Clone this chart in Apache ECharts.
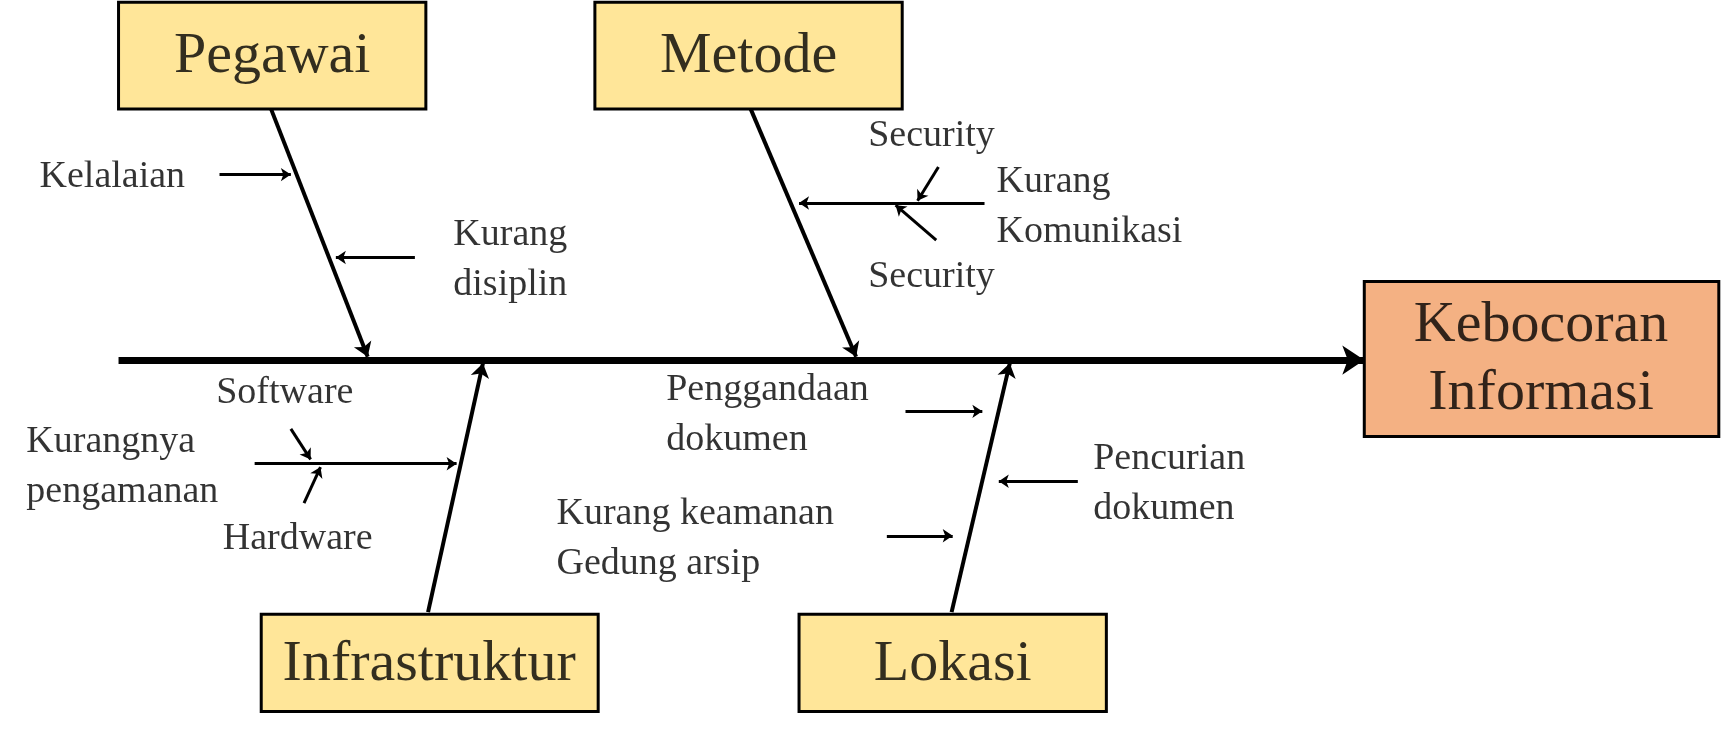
<!DOCTYPE html>
<html><head><meta charset="utf-8">
<script src="https://cdn.jsdelivr.net/npm/echarts@6/dist/echarts.min.js"></script>
<style>html,body{margin:0;padding:0;background:#fff}#c{width:1721px;height:742px}</style>
</head><body><div id="c"></div>
<script>
// boxes: [x1, y1, x2, y2, fill]
var boxes = [
  [108, 2, 388, 100, '#FFE699'],
  [542, 2, 822, 100, '#FFE699'],
  [238, 563, 545, 652, '#FFE699'],
  [728, 563, 1008, 652, '#FFE699'],
  [1243, 258, 1566, 400, '#F4B183']
]
var boxTitles = [
  [248, 52, 'Pegawai'], [682, 52, 'Metode'], [391, 609, 'Infrastruktur'],
  [868, 609, 'Lokasi'], [1404, 330, 'Kebocoran\nInformasi']
]
// main bones
var bones = [
  [[247, 100], [335, 327]],
  [[684, 100], [780, 327]],
  [[390, 561], [440, 333]],
  [[867, 561], [920, 333]]
]
var spine = [[[108, 330], [1243, 330]]]
// cause arrows
var arrows = [
  [[200, 160], [265, 160]],
  [[378, 236], [306, 236]],
  [[897, 186], [728, 186]],
  [[855, 153], [836, 184]],
  [[853, 220], [816, 188]],
  [[232, 425], [416, 425]],
  [[265, 393], [283, 421]],
  [[277, 461], [292, 428]],
  [[825, 377], [895, 377]],
  [[982, 441], [910, 441]],
  [[808, 491], [868, 491]]
]
// cause labels: [x, y, text]
var causes = [
  [36, 162, 'Kelalaian'],
  [413, 238, 'Kurang\ndisiplin'],
  [791, 125, 'Security'],
  [908, 190, 'Kurang\nKomunikasi'],
  [791, 254, 'Security'],
  [197, 360, 'Software'],
  [24, 428, 'Kurangnya\npengamanan'],
  [203, 494, 'Hardware'],
  [607, 380, 'Penggandaan\ndokumen'],
  [996, 444, 'Pencurian\ndokumen'],
  [507, 494, 'Kurang keamanan\nGedung arsip']
]

var font = 'Liberation Serif'
var myChart = echarts.init(document.getElementById('c'))

function lineSeries(data, width, arrowSize) {
  return {
    type: 'lines', coordinateSystem: 'cartesian2d', z: 3,
    symbol: ['none', 'arrow'], symbolSize: arrowSize,
    lineStyle: { color: '#000', width: width, opacity: 1 },
    data: data.map(function (d) { return { coords: d } })
  }
}

var option = {
  animation: false,
  grid: { left: 0, right: 0, top: 0, bottom: 0 },
  xAxis: { type: 'value', min: 0, max: 1568, show: false },
  yAxis: { type: 'value', min: 0, max: 680, inverse: true, show: false },
  series: [
    {
      type: 'custom', z: 2,
      renderItem: function (params, api) {
        var p1 = api.coord([api.value(0), api.value(1)])
        var p2 = api.coord([api.value(2), api.value(3)])
        return {
          type: 'rect',
          shape: { x: p1[0], y: p1[1], width: p2[0] - p1[0], height: p2[1] - p1[1] },
          style: { fill: boxes[params.dataIndex][4], stroke: '#000', lineWidth: 3 }
        }
      },
      data: boxes.map(function (b) { return b.slice(0, 4) })
    },
    {
      type: 'scatter', symbolSize: 0, z: 5,
      label: { show: true, position: 'inside', color: '#000', textBorderWidth: 0, fontFamily: font,
        fontSize: 58, lineHeight: 68,
        formatter: function (p) { return p.value[2] } },
      data: boxTitles
    },
    lineSeries(spine, 7, 22),
    lineSeries(bones, 4, 14),
    lineSeries(arrows, 3, 10),
    {
      type: 'scatter', symbolSize: 0, z: 5,
      label: { show: true, position: 'right', distance: 0, align: 'left', color: '#000', textBorderWidth: 0,
        fontFamily: font, fontSize: 38, lineHeight: 50,
        formatter: function (p) { return p.value[2] } },
      data: causes
    }
  ]
}
myChart.setOption(option)
</script></body></html>
